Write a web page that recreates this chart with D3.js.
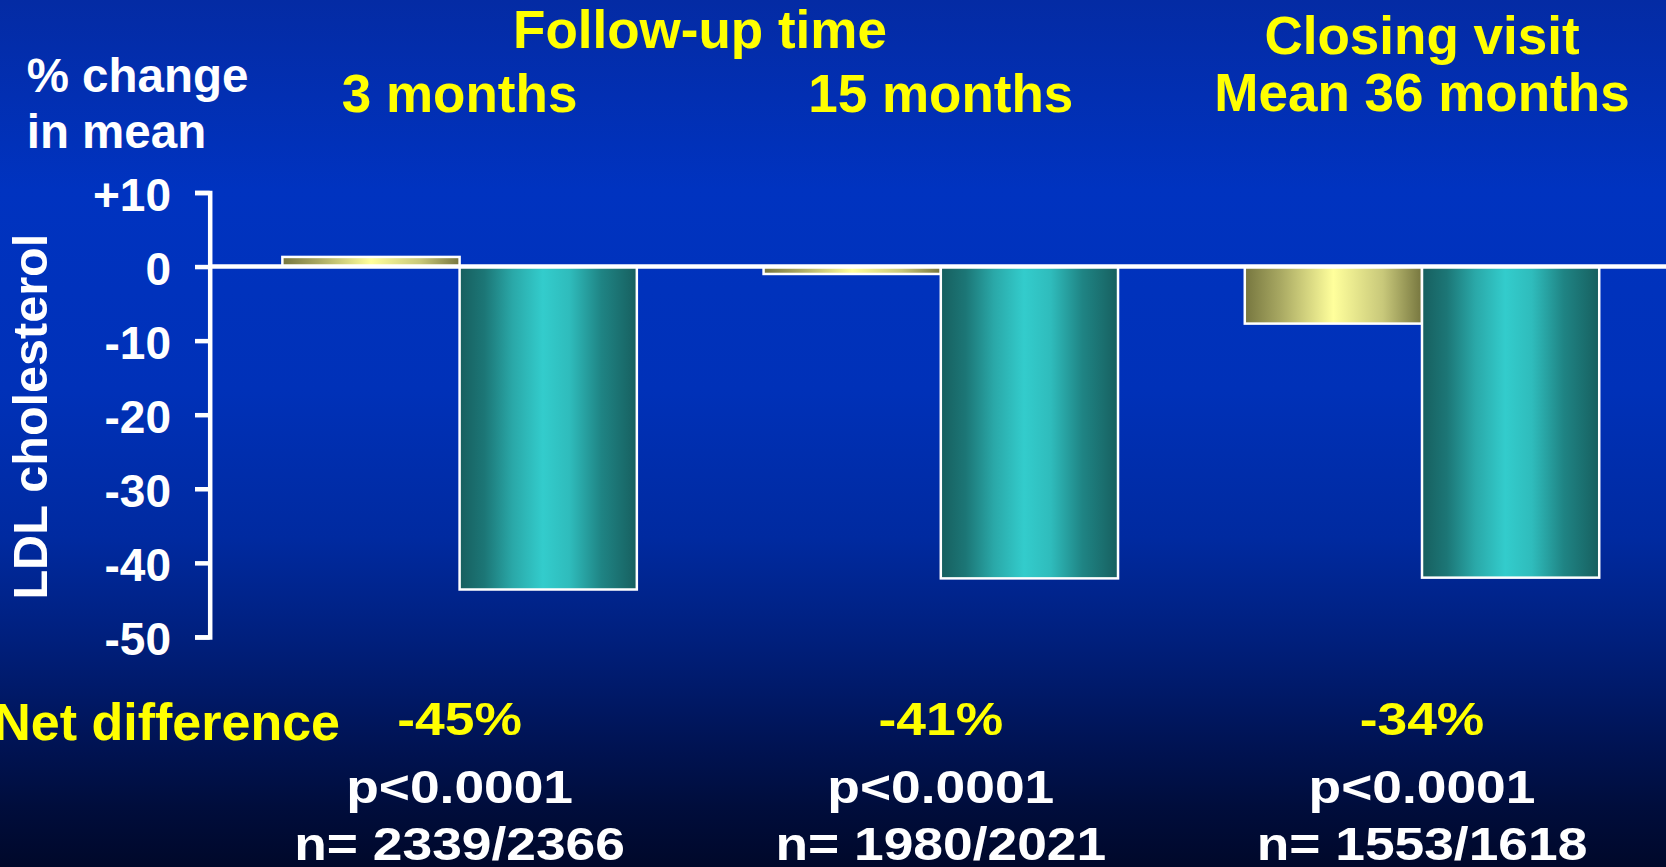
<!DOCTYPE html>
<html>
<head>
<meta charset="utf-8">
<script src="https://cdn.jsdelivr.net/npm/d3@7"></script>
<style>
  html, body { margin: 0; padding: 0; overflow: hidden; background: #001a6a; }
  svg { display: block; }
  text { font-family: "Liberation Sans", Arial, Helvetica, sans-serif; font-weight: bold; }
</style>
</head>
<body>
<svg id="chart" width="1666" height="867"></svg>
<script>
// Follow-up visits (one group each)
const visits = ["3 months", "15 months", "Closing visit"];
const visitTitles = [["3 months"], ["15 months"], ["Closing visit", "Mean 36 months"]];
// % change in mean LDL cholesterol, per arm
const seriesNames = ["control", "treatment"];
const controlChange = [1.3, -1.0, -7.7];
const treatmentChange = [-43.6, -42.1, -42.0];
// statistics shown below the chart
const netDifference = ["-45%", "-41%", "-34%"];
const pValues = ["p<0.0001", "p<0.0001", "p<0.0001"];
const sampleSizes = ["n= 2339/2366", "n= 1980/2021", "n= 1553/1618"];
// y-axis ticks
const yTicks = [10, 0, -10, -20, -30, -40, -50];

const W = 1666, H = 867;
const svg = d3.select("#chart");
const defs = svg.append("defs");

// background: deep blue fading to near-black at the bottom
const bg = defs.append("linearGradient").attr("id", "bg")
  .attr("x1", 0).attr("y1", 0).attr("x2", 0).attr("y2", 1);
[[0, "#042ba4"], [0.22, "#0033c0"], [0.45, "#0031b8"], [0.62, "#002aa0"],
 [0.74, "#001f7c"], [0.84, "#00155a"], [0.93, "#000d3c"], [1, "#00082a"]]
  .forEach(([o, c]) => bg.append("stop").attr("offset", o).attr("stop-color", c));
svg.append("rect").attr("width", W).attr("height", H).attr("fill", "url(#bg)");

// cylinder-like horizontal shading for the bars
const goldGrad = defs.append("linearGradient").attr("id", "gold")
  .attr("x1", 0).attr("y1", 0).attr("x2", 1).attr("y2", 0);
[[0, "#76763f"], [0.2, "#a8a862"], [0.5, "#ffff9c"], [0.78, "#c8c87a"], [1, "#76763f"]]
  .forEach(([o, c]) => goldGrad.append("stop").attr("offset", o).attr("stop-color", c));
const tealGrad = defs.append("linearGradient").attr("id", "teal")
  .attr("x1", 0).attr("y1", 0).attr("x2", 1).attr("y2", 0);
[[0, "#175f5f"], [0.14, "#1c7676"], [0.3, "#2aa8a8"], [0.47, "#33cccc"],
 [0.62, "#2fbcbc"], [0.8, "#1f8484"], [1, "#175f5f"]]
  .forEach(([o, c]) => tealGrad.append("stop").attr("offset", o).attr("stop-color", c));

// scales
const y = d3.scaleLinear().domain([-50, 10]).range([636.9, 192.5]);
const x0 = d3.scaleBand().domain(visits).range([219, 1662.6])
  .paddingInner(0.2634).paddingOuter(0.1317);
const x1 = d3.scaleBand().domain(seriesNames).range([0, x0.bandwidth()]).padding(0);
const fills = { control: "url(#gold)", treatment: "url(#teal)" };

const rows = visits.map((v, i) => ({
  visit: v,
  values: [
    { key: "control", value: controlChange[i] },
    { key: "treatment", value: treatmentChange[i] }
  ]
}));

// bars
const groups = svg.append("g").selectAll("g").data(rows).join("g")
  .attr("transform", d => `translate(${x0(d.visit)},0)`);
groups.selectAll("rect").data(d => d.values).join("rect")
  .attr("x", d => x1(d.key))
  .attr("width", x1.bandwidth())
  .attr("y", d => y(Math.max(0, d.value)))
  .attr("height", d => Math.abs(y(d.value) - y(0)))
  .attr("fill", d => fills[d.key])
  .attr("stroke", "#ffffff")
  .attr("stroke-width", 2.5);

// zero reference line across the plot
svg.append("line")
  .attr("x1", 209.7).attr("x2", W)
  .attr("y1", y(0)).attr("y2", y(0))
  .attr("stroke", "#ffffff").attr("stroke-width", 4.5);

// y axis
const yAxis = d3.axisLeft(y).tickValues(yTicks)
  .tickSizeInner(14.7).tickSizeOuter(14.7).tickPadding(24)
  .tickFormat(d => d > 0 ? "+" + d : String(d));
const ag = svg.append("g").attr("transform", "translate(209.7,0)").call(yAxis);
ag.select(".domain").attr("stroke", "#ffffff").attr("stroke-width", 4.5).attr("stroke-linejoin", "miter");
ag.selectAll(".tick line").attr("stroke", "#ffffff").attr("stroke-width", 4.5);
ag.selectAll(".tick text")
  .attr("fill", "#ffffff")
  .attr("font-size", 46)
  .attr("font-family", "'Liberation Sans', Arial, sans-serif")
  .attr("font-weight", "bold")
  .attr("dy", null)
  .attr("y", 17.5);

// axis titles
const axisTitle = svg.append("text").attr("fill", "#ffffff").attr("font-size", 47.5);
axisTitle.append("tspan").attr("x", 26.7).attr("y", 91.7).text("% change");
axisTitle.append("tspan").attr("x", 26.7).attr("y", 148.3).text("in mean");
svg.append("text")
  .attr("transform", "translate(46.7,416.7) rotate(-90)")
  .attr("text-anchor", "middle")
  .attr("fill", "#ffffff").attr("font-size", 48.5)
  .text("LDL cholesterol");

// header: follow-up time and per-visit titles
const yellow = "#ffff00";
svg.append("text").attr("x", 700).attr("y", 48.3)
  .attr("text-anchor", "middle").attr("fill", yellow).attr("font-size", 53)
  .text("Follow-up time");
const titleBaselines = [[111.5], [111.5], [54], [111]];
visits.forEach((v, i) => {
  const cx = x0(v) + x0.bandwidth() / 2;
  visitTitles[i].forEach((t, j) => {
    svg.append("text").attr("x", cx).attr("y", i === 2 ? [54, 111][j] : 111.5)
      .attr("text-anchor", "middle").attr("fill", yellow).attr("font-size", 53)
      .text(t);
  });
});

// footer statistics
svg.append("text").attr("x", 340).attr("y", 740)
  .attr("text-anchor", "end").attr("fill", yellow).attr("font-size", 52)
  .text("Net difference");
visits.forEach((v, i) => {
  const cx = x0(v) + x0.bandwidth() / 2;
  const lines = [
    { text: netDifference[i], y: 735, color: yellow },
    { text: pValues[i], y: 802.7, color: "#ffffff" },
    { text: sampleSizes[i], y: 860, color: "#ffffff" }
  ];
  lines.forEach(l => {
    svg.append("g").attr("transform", `translate(${cx},${l.y}) scale(1.16,1)`)
      .append("text")
      .attr("text-anchor", "middle").attr("fill", l.color).attr("font-size", 46)
      .text(l.text);
  });
});
</script>
</body>
</html>
